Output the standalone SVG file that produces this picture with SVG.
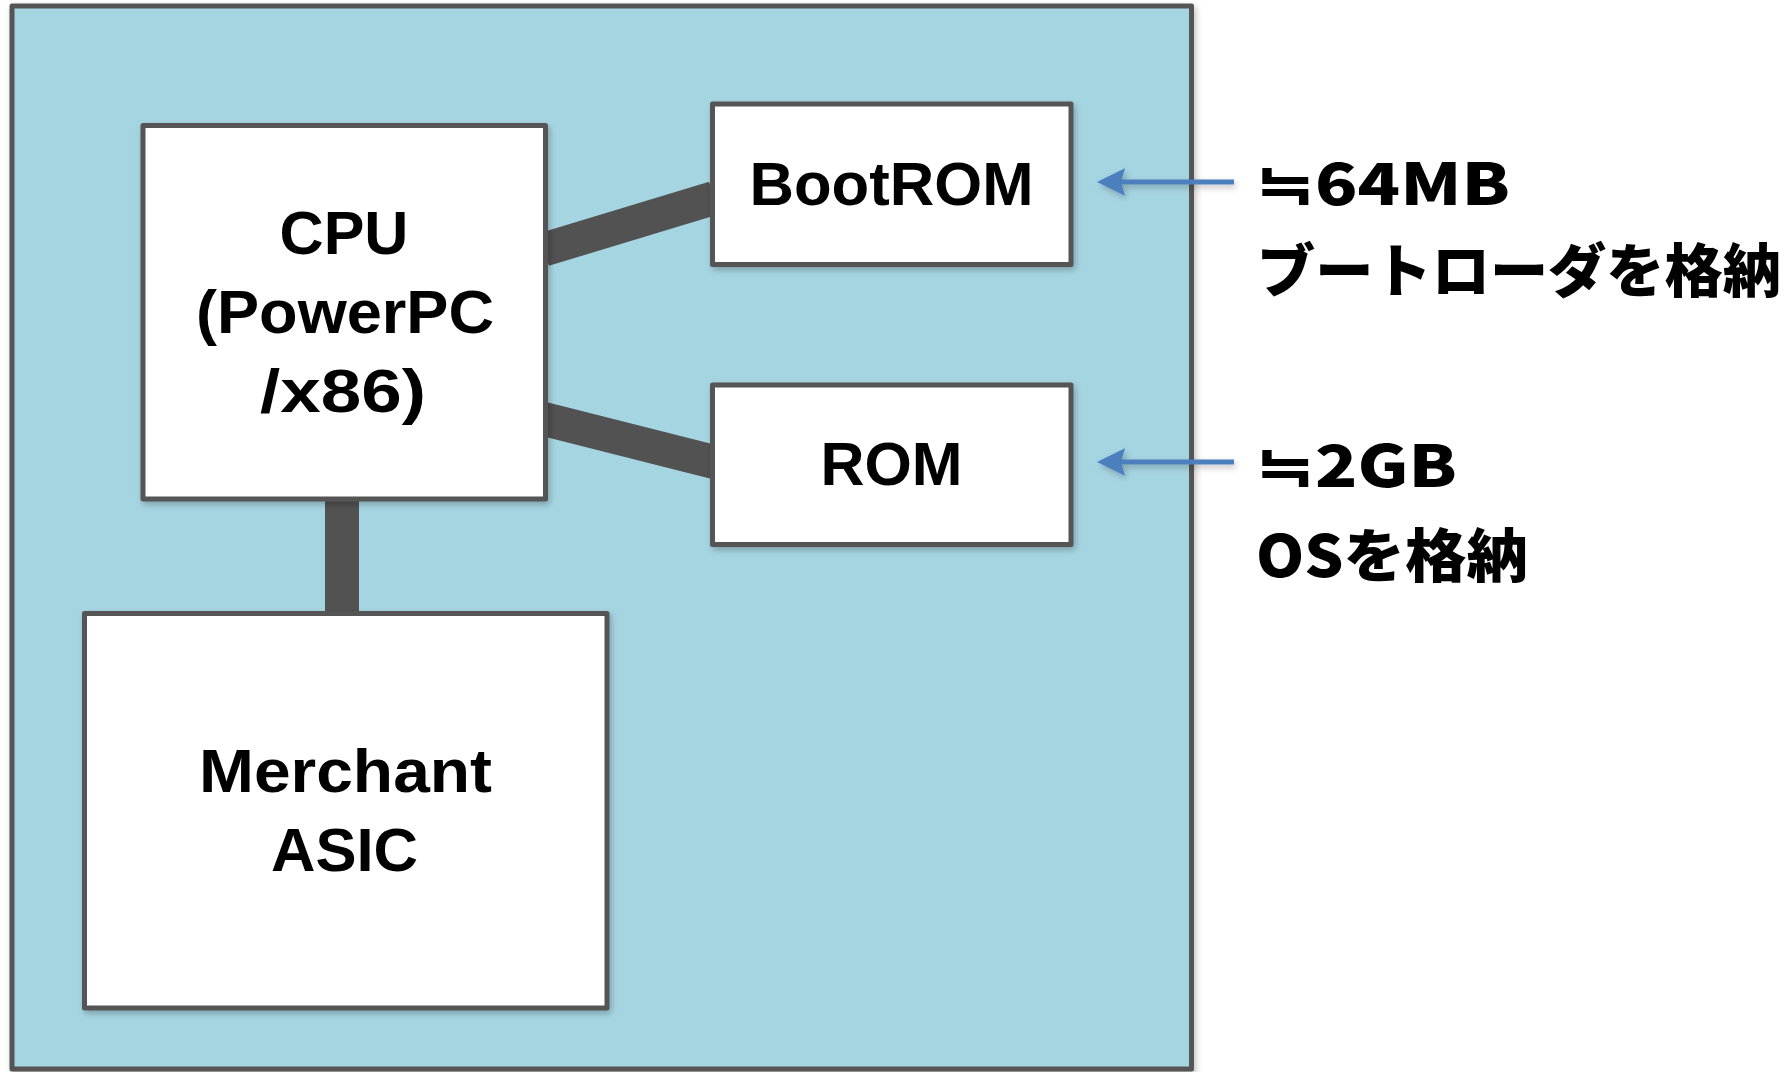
<svg xmlns="http://www.w3.org/2000/svg" width="1787" height="1072" viewBox="0 0 1787 1072">
  <style>
    .board { fill: #a6d5e2; stroke: #545454; stroke-width: 5; stroke-linejoin: round; }
    .box { fill: #ffffff; stroke: #545454; stroke-width: 5; stroke-linejoin: round; }
    .bus { stroke: #525252; stroke-width: 34; fill: none; stroke-linecap: butt; }
    .label { font-family: "Liberation Sans", Arial, sans-serif; font-weight: bold; font-size: 61px; fill: #000; text-anchor: middle; }
    .note { font-family: "Noto Sans CJK JP", "Liberation Sans", sans-serif; font-weight: 900; font-size: 58px; fill: #000; }
    .ptr { stroke: #4b7fbe; stroke-width: 5; fill: none; }
    .head { fill: #4b7fbe; }
  </style>
  <defs>
    <filter id="shadow" x="-10%" y="-10%" width="130%" height="130%">
      <feDropShadow dx="2" dy="3" stdDeviation="3" flood-color="#000" flood-opacity="0.25"/>
    </filter>
  </defs>

  <rect width="1787" height="1072" fill="#ffffff"/>

  <!-- switch board -->
  <g id="board">
    <rect class="board" x="12" y="6" width="1179.5" height="1063" filter="url(#shadow)"/>
  </g>

  <!-- buses between the chips -->
  <g id="connectors">
    <line class="bus" x1="544" y1="249.5" x2="714" y2="198"/>
    <line class="bus" x1="544" y1="419" x2="714" y2="462"/>
    <line class="bus" x1="342" y1="499" x2="342" y2="615"/>
    <!-- size notes pointing at the memories -->
    <g id="ptr-bootrom" filter="url(#shadow)">
      <line class="ptr" x1="1234" y1="182" x2="1118" y2="182"/>
      <path class="head" d="M1097,182 L1125,168.3 L1121,182 L1125,195.7 Z"/>
    </g>
    <g id="ptr-rom" filter="url(#shadow)">
      <line class="ptr" x1="1234" y1="462" x2="1118" y2="462"/>
      <path class="head" d="M1097,462 L1125,448.3 L1121,462 L1125,475.7 Z"/>
    </g>
  </g>

  <g id="cpu">
    <rect class="box" x="143" y="125.5" width="402.5" height="373.5" filter="url(#shadow)"/>
    <text class="label" x="344" y="254">CPU</text>
    <text class="label" x="345" y="333" textLength="298" lengthAdjust="spacingAndGlyphs">(PowerPC</text>
    <text class="label" x="343" y="412" textLength="166" lengthAdjust="spacingAndGlyphs">/x86)</text>
  </g>

  <g id="bootrom">
    <rect class="box" x="712.5" y="104" width="358.5" height="160.5" filter="url(#shadow)"/>
    <text class="label" x="891.5" y="205" textLength="284" lengthAdjust="spacingAndGlyphs">BootROM</text>
  </g>

  <g id="rom">
    <rect class="box" x="712.5" y="385" width="358.5" height="159.5" filter="url(#shadow)"/>
    <text class="label" x="891.5" y="485" textLength="142" lengthAdjust="spacingAndGlyphs">ROM</text>
  </g>

  <g id="asic">
    <rect class="box" x="84.5" y="613.5" width="522.5" height="394.5" filter="url(#shadow)"/>
    <text class="label" x="345.5" y="792" textLength="293" lengthAdjust="spacingAndGlyphs">Merchant</text>
    <text class="label" x="344.5" y="871" textLength="147" lengthAdjust="spacingAndGlyphs">ASIC</text>
  </g>

  <g id="note-bootrom">
    <text class="note" x="1256" y="205" textLength="254" lengthAdjust="spacingAndGlyphs">≒64MB</text>
    <text class="note" x="1257" y="292" textLength="524" lengthAdjust="spacingAndGlyphs">ブートローダを格納</text>
  </g>

  <g id="note-rom">
    <text class="note" x="1256" y="487" textLength="201" lengthAdjust="spacingAndGlyphs">≒2GB</text>
    <text class="note" x="1256" y="577" textLength="272" lengthAdjust="spacingAndGlyphs">OSを格納</text>
  </g>
</svg>
